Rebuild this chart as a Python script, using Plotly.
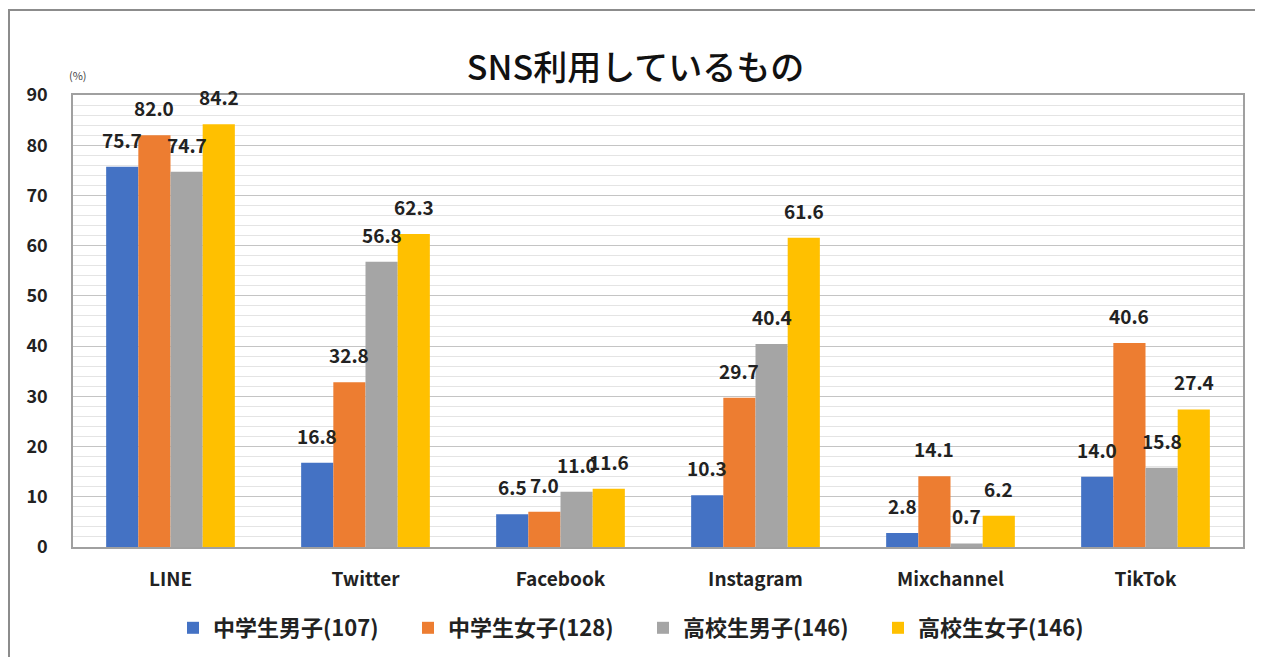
import plotly.graph_objects as go

categories = ["LINE", "Twitter", "Facebook", "Instagram", "Mixchannel", "TikTok"]
series_names = ["中学生男子(107)", "中学生女子(128)", "高校生男子(146)", "高校生女子(146)"]
jh_boys = [75.7, 16.8, 6.5, 10.3, 2.8, 14.0]
jh_girls = [82.0, 32.8, 7.0, 29.7, 14.1, 40.6]
hs_boys = [74.7, 56.8, 11.0, 40.4, 0.7, 15.8]
hs_girls = [84.2, 62.3, 11.6, 61.6, 6.2, 27.4]
colors = ["#4472C4", "#ED7D31", "#A5A5A5", "#FFC000"]
y_ticks = [0, 10, 20, 30, 40, 50, 60, 70, 80, 90]

font_main = "Noto Sans CJK JP, Noto Sans, sans-serif"

OFF = 8  # page body margin
W, H = 1263 - OFF, 657 - OFF
L, R, T, B = 73 - OFF, 20, 95 - OFF, 110
pw = W - L - R
ph = H - T - B
BARGAP = 0.34
bar_px = pw / len(categories) * (1 - BARGAP) / 4

all_series = [jh_boys, jh_girls, hs_boys, hs_girls]

fig = go.Figure()
for name, vals, col in zip(series_names, all_series, colors):
    fig.add_trace(go.Bar(
        x=categories, y=vals, name=name, marker_color=col,
        marker_line_width=0,
    ))

# data labels, anchored at each bar's value
for k, vals in enumerate(all_series):
    for cat, v in zip(categories, vals):
        fig.add_annotation(x=cat, y=v, xref="x", yref="y", text=f"{v:.1f}",
                           showarrow=False, xanchor="center", yanchor="bottom",
                           xshift=(k - 1.5) * bar_px, yshift=12,
                           font=dict(size=19, color="#222222", family=font_main, weight=600))

fig.update_layout(
    width=W, height=H,
    margin=dict(l=L, r=R, t=T, b=B, autoexpand=False),
    paper_bgcolor="white", plot_bgcolor="white",
    barmode="group", bargap=BARGAP, bargroupgap=0,
    font=dict(family=font_main, color="#222222"),
    title=dict(text="SNS利用しているもの", x=0.5, xanchor="center",
               y=1 - (68 - OFF) / H, yanchor="middle",
               font=dict(size=34, color="#111111", family=font_main, weight=500)),
    legend=dict(orientation="h", x=(643 - 73) / pw, xanchor="center", y=-(628 - 547) / ph, yanchor="middle",
                font=dict(size=22, family=font_main, color="#222222", weight=600),
                itemwidth=30, entrywidth=190, tracegroupgap=0),
    showlegend=True,
)
fig.update_xaxes(showline=True, linecolor="#a0a0a0", mirror=True, linewidth=1.5,
                 tickfont=dict(size=19, family=font_main, color="#222222", weight=600),
                 ticks="", showgrid=False, ticklabelstandoff=14)
fig.update_yaxes(range=[0, 90], tickvals=y_ticks, showline=True, linecolor="#a0a0a0", mirror=True,
                 linewidth=1.5,
                 tickfont=dict(size=18, family=font_main, color="#222222", weight=600),
                 showgrid=True, gridcolor="#c4c4c4", gridwidth=1,
                 minor=dict(dtick=2, showgrid=True, gridcolor="#e4e4e4", gridwidth=1),
                 ticklabelstandoff=20, zeroline=False)

fig.add_annotation(text="(%)", xref="paper", yref="paper", x=(78 - 73) / pw, y=(547 - 75) / ph,
                   showarrow=False, xanchor="center", yanchor="middle",
                   font=dict(size=11, color="#444444", family=font_main))

fig.add_shape(type="rect", xref="paper", yref="paper",
              x0=(9 - 73) / pw, x1=(1275 - 73) / pw, y0=(547 - 670) / ph, y1=(547 - 10) / ph,
              line=dict(color="#8c8c8c", width=2), fillcolor="rgba(0,0,0,0)", layer="below")

fig.write_html("out.html")
